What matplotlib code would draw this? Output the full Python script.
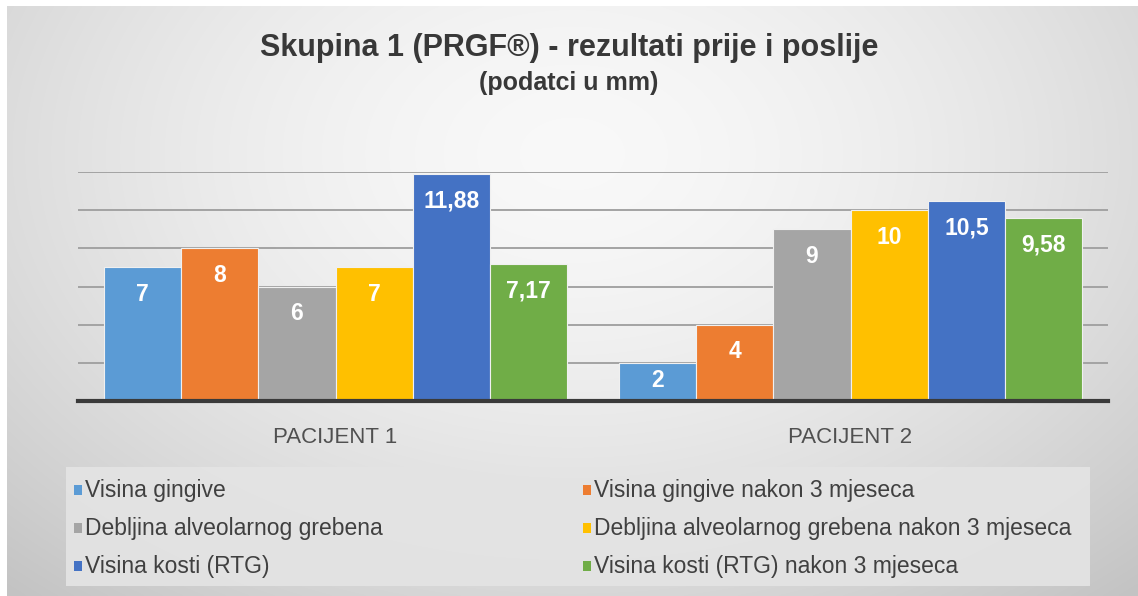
import numpy as np
import matplotlib
matplotlib.use("Agg")
import matplotlib.pyplot as plt
from matplotlib.patches import Rectangle

categories = ["PACIJENT 1", "PACIJENT 2"]
series_names = [
    "Visina gingive",
    "Visina gingive nakon 3 mjeseca",
    "Debljina alveolarnog grebena",
    "Debljina alveolarnog grebena nakon 3 mjeseca",
    "Visina kosti (RTG)",
    "Visina kosti (RTG) nakon 3 mjeseca",
]
visina_gingive = [7, 2]
visina_gingive_nakon = [8, 4]
debljina_grebena = [6, 9]
debljina_grebena_nakon = [7, 10]
visina_kosti = [11.88, 10.5]
visina_kosti_nakon = [7.17, 9.58]
series_values = [visina_gingive, visina_gingive_nakon, debljina_grebena,
                 debljina_grebena_nakon, visina_kosti, visina_kosti_nakon]
colors = ["#5B9BD5", "#ED7D31", "#A5A5A5", "#FFC000", "#4472C4", "#70AD47"]

W, H = 1138, 596
fig = plt.figure(figsize=(W / 100, H / 100), dpi=100)
fig.patch.set_facecolor("white")

# background radial gradient
bg = fig.add_axes([7 / W, 0, 1 - 7 / W, 1 - 6 / H])
bg.set_axis_off()
yy, xx = np.mgrid[0:1:300j, 0:1:600j]
r = np.sqrt(((xx - 0.5) / 0.75) ** 2 + ((yy - 0.25) / 1.0) ** 2)
val = 0.975 - 0.21 * np.clip(r, 0, 1) ** 1.6
bg.imshow(np.dstack([val, val, val]), aspect="auto", extent=[0, 1, 1, 0],
          interpolation="bilinear")
bg.set_xlim(0, 1)
bg.set_ylim(1, 0)

# legend box
fig.patches.append(Rectangle((66 / W, 1 - 586 / H), (1090 - 66) / W,
                             (586 - 467) / H, transform=fig.transFigure,
                             facecolor="#e4e4e4", edgecolor="none",
                             alpha=0.9, zorder=1))

left, right = 78 / W, 1108 / W
bottom, top = 1 - 401 / H, 1 - 172 / H
ax = fig.add_axes([left, bottom, right - left, top - bottom])
ax.patch.set_alpha(0)

x = np.arange(len(categories))
n = len(series_values)
bw = 0.15
for i, (vals, c) in enumerate(zip(series_values, colors)):
    pos = x + (i - (n - 1) / 2) * bw
    bars = ax.bar(pos, vals, width=bw, color=c, edgecolor="#f0f0f0",
                  linewidth=0.8, zorder=3)
    for b, v in zip(bars, vals):
        lbl = f"{v:g}".replace(".", ",")
        off = -19.5 if v > 3 else -13
        ax.annotate(lbl, (b.get_x() + b.get_width() / 2, v),
                    xytext=(0, off), textcoords="offset points",
                    ha="center", va="center", color="white",
                    fontsize=16.5, fontweight="bold",
                    family="Liberation Sans", zorder=4)

ax.set_xlim(-0.5, 1.5)
ax.set_ylim(0, 12)
ax.set_yticks([2, 4, 6, 8, 10, 12])
ax.yaxis.grid(True, color="#a3a3a3", linewidth=1.4, zorder=0)
ax.set_axisbelow(True)
ax.tick_params(axis="y", left=False, labelleft=False)
ax.tick_params(axis="x", bottom=False, pad=15)
ax.set_xticks(x)
ax.set_xticklabels(categories, fontsize=16, color="#505050",
                   family="Liberation Sans")
for s in ["top", "right", "left"]:
    ax.spines[s].set_visible(False)
ax.spines["bottom"].set_color("#3a3a3a")
ax.spines["bottom"].set_linewidth(3)
ax.spines["bottom"].set_zorder(5)

fig.text(0.5, 1 - 48 / H, "Skupina 1 (PRGF®) - rezultati prije i poslije",
         ha="center", va="center", fontsize=22, fontweight="bold",
         color="#383838", family="Liberation Sans")
fig.text(0.5, 1 - 83 / H, "(podatci u mm)", ha="center", va="center",
         fontsize=18, fontweight="bold", color="#383838",
         family="Liberation Sans")

# legend
col_x = [74, 583]
row_y = [490, 528, 566]
for i, (name, c) in enumerate(zip(series_names, colors)):
    cx = col_x[i % 2]
    cy = row_y[i // 2]
    fig.patches.append(Rectangle((cx / W, 1 - (cy + 5) / H), 8 / W, 10 / H,
                                 transform=fig.transFigure, facecolor=c,
                                 edgecolor="none", zorder=5))
    fig.text((cx + 11) / W, 1 - cy / H, name, ha="left", va="center",
             fontsize=16.5, color="#404040", family="Liberation Sans")

fig.savefig("out.png", dpi=100)
